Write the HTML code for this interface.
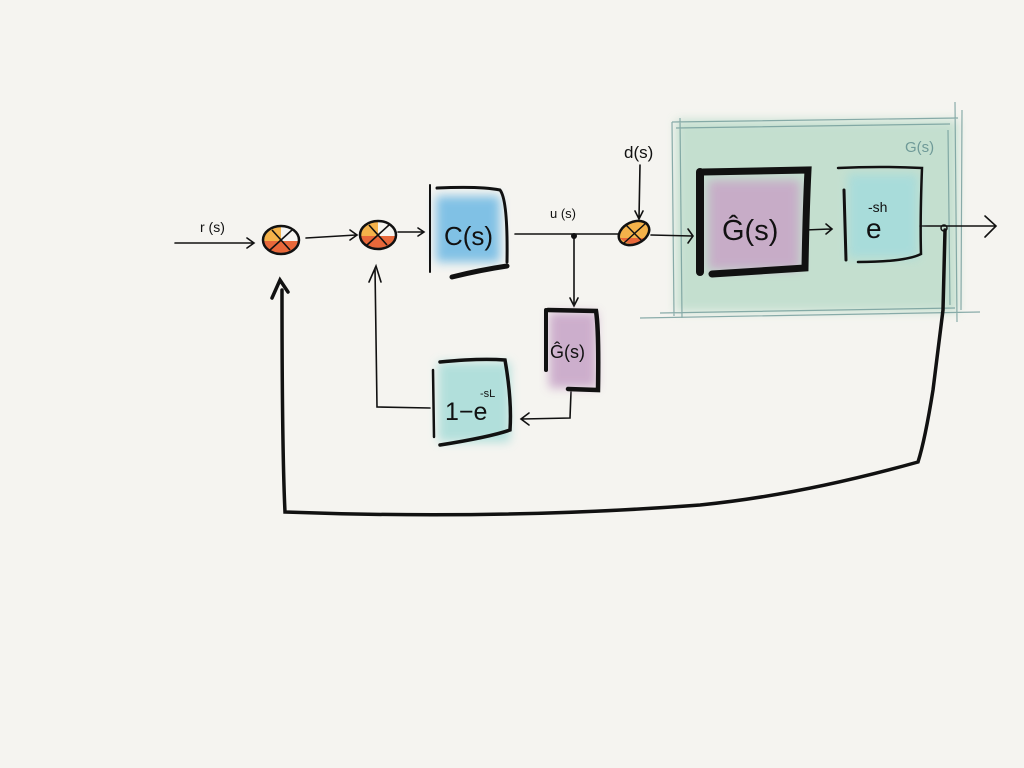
<!DOCTYPE html>
<html><head><meta charset="utf-8"><style>
html,body{margin:0;padding:0;background:#f5f4f0;}
svg{display:block}
text{font-family:"Liberation Sans",sans-serif;}
</style></head><body>
<svg width="1024" height="768" viewBox="0 0 1024 768" xmlns="http://www.w3.org/2000/svg">
<defs>
<filter id="blur" x="-20%" y="-20%" width="140%" height="140%"><feGaussianBlur stdDeviation="5"/></filter>
<clipPath id="c1"><ellipse cx="281" cy="240" rx="17" ry="13"/></clipPath>
<clipPath id="c2"><ellipse cx="378" cy="235" rx="17" ry="13"/></clipPath>
</defs>
<rect width="1024" height="768" fill="#f5f4f0"/>
<rect x="676" y="120" width="282" height="192" fill="#bcdcca" opacity="0.85" filter="url(#blur)"/>
<g stroke="#6f9a98" stroke-width="1.2" fill="none" opacity="0.8">
<path d="M672 122 L958 118 M676 128 L950 124 M672 122 L674 316 M680 118 L682 318 M640 318 L980 312 M660 313 L955 308 M955 102 L957 322 M962 110 L961 310 M948 130 L950 305"/>
</g>
<text x="905" y="152" font-size="15" fill="#6f9a98">G(s)</text>
<g stroke="#111" fill="none" stroke-width="1.6" stroke-linecap="round">
<path d="M175 243 L254 243 M247 238 L254 243 L247 248"/>
<path d="M306 238 L356 235 M350 230 L357 235 L350 240"/>
<path d="M398 232 L424 232 M418 228 L424 232 L418 236"/>
<path d="M515 234 L618 234"/>
<path d="M574 236 L574 305 M570 298 L574 306 L578 298"/>
<path d="M571 392 L570 418 L522 419 M529 413 L521 419 L529 425"/>
<path d="M430 408 L377 407 L375 268 M369 282 L376 266 L381 282"/>
<path d="M640 165 L639 218 M635 211 L639 219 L643 211"/>
<path d="M651 235 L692 236 M688 229 L693 236 L688 243"/>
<path d="M805 230 L830 229 M826 224 L832 229 L826 234"/>
<path d="M920 226 L995 226 M985 216 L996 226 L985 237"/>
</g>
<g stroke="#111" fill="none" stroke-width="3.5" stroke-linecap="round">
<path d="M945 230 L943 310 L933 390 Q925 440 918 462 Q800 495 700 505 Q500 520 285 512 Q282 450 282 290"/>
<path d="M272 298 L280 280 L288 292"/>
</g>
<text x="200" y="232" font-size="14" fill="#111">r (s)</text>
<text x="550" y="218" font-size="13" fill="#111">u (s)</text>
<text x="624" y="158" font-size="17" fill="#111">d(s)</text>
<circle cx="574" cy="236" r="3" fill="#111"/>
<g>
<g clip-path="url(#c1)"><rect x="262" y="226" width="19" height="15" fill="#f4b24a"/><rect x="262" y="241" width="38" height="15" fill="#e8683a"/></g>
<ellipse cx="281" cy="240" rx="18" ry="14" fill="none" stroke="#111" stroke-width="2.5"/>
<path d="M270 250 L292 230 M272 230 L290 250" stroke="#111" stroke-width="1.6"/>
<g clip-path="url(#c2)"><rect x="359" y="221" width="19" height="15" fill="#f4b24a"/><rect x="359" y="236" width="38" height="15" fill="#e8683a"/></g>
<ellipse cx="378" cy="235" rx="18" ry="14" fill="none" stroke="#111" stroke-width="2.5"/>
<path d="M367 245 L389 225 M369 225 L387 245" stroke="#111" stroke-width="1.6"/>
<ellipse cx="634" cy="233" rx="16" ry="11" transform="rotate(-25 634 233)" fill="#f4b24a"/>
<path d="M620 238 Q632 250 646 238 Z" fill="#e8683a"/>
<ellipse cx="634" cy="233" rx="16" ry="11" transform="rotate(-25 634 233)" fill="none" stroke="#111" stroke-width="2.5"/>
<path d="M624 243 L646 223 M626 225 L642 241" stroke="#111" stroke-width="1.4"/>
</g>
<rect x="436" y="196" width="64" height="66" fill="#5ab0e2" opacity="0.75" filter="url(#blur)"/>
<g stroke="#111" fill="none" stroke-linecap="round">
<path d="M430 185 L430 272" stroke-width="2"/>
<path d="M437 188 Q480 186 500 190 Q508 200 507 262" stroke-width="3"/>
<path d="M452 277 Q480 270 507 266" stroke-width="5"/>
</g>
<text x="444" y="245" font-size="26" fill="#111">C(s)</text>
<rect x="549" y="312" width="48" height="76" fill="#c6a2c6" opacity="0.85" filter="url(#blur)"/>
<g stroke="#111" fill="none" stroke-linecap="round">
<path d="M546 310 L546 370" stroke-width="4"/>
<path d="M548 310 L596 311 Q599 330 598 390 L568 389" stroke-width="4.5"/>
</g>
<text x="550" y="358" font-size="18" fill="#111">Ĝ(s)</text>
<rect x="438" y="362" width="72" height="80" fill="#a6dcd8" opacity="0.85" filter="url(#blur)"/>
<g stroke="#111" fill="none" stroke-linecap="round">
<path d="M433 370 L434 437" stroke-width="2.5"/>
<path d="M440 362 Q480 358 505 360 Q512 400 510 430 Q490 437 440 445" stroke-width="3.5"/>
</g>
<text x="445" y="420" font-size="25" fill="#111">1−e</text>
<text x="480" y="397" font-size="11" fill="#111">-sL</text>
<rect x="708" y="180" width="92" height="90" fill="#c8a4c6" opacity="0.85" filter="url(#blur)"/>
<g stroke="#111" fill="none" stroke-linecap="round">
<path d="M700 172 L700 272" stroke-width="8"/>
<path d="M703 172 L808 170 Q806 210 805 268 L712 274" stroke-width="7"/>
</g>
<text x="722" y="240" font-size="29" fill="#111">Ĝ(s)</text>
<rect x="848" y="174" width="70" height="84" fill="#a6dcdc" opacity="0.9" filter="url(#blur)"/>
<g stroke="#111" fill="none" stroke-linecap="round">
<path d="M844 190 L846 260" stroke-width="3"/>
<path d="M838 168 Q880 166 922 168 Q920 220 921 254 Q905 262 858 262" stroke-width="2.5"/>
</g>
<text x="866" y="238" font-size="28" fill="#111">e</text>
<text x="868" y="212" font-size="14" fill="#111">-sh</text>
<circle cx="944" cy="228" r="3" fill="none" stroke="#111" stroke-width="1.5"/>
</svg>
</body></html>
